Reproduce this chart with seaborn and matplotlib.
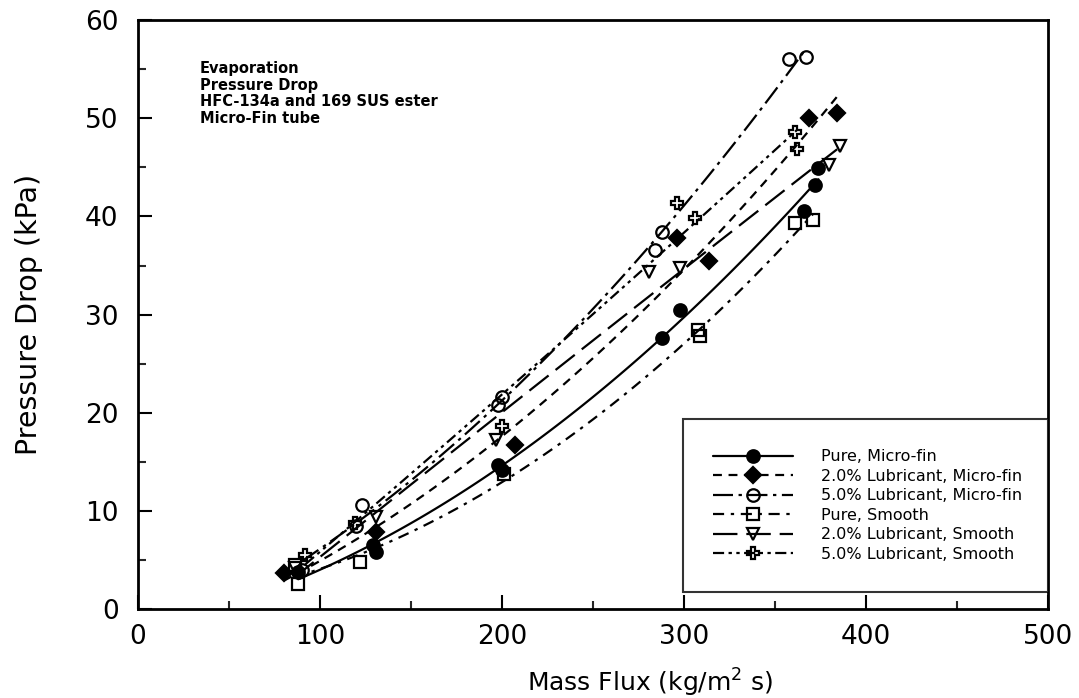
import numpy as np
import matplotlib
matplotlib.use("Agg")
import matplotlib.pyplot as plt
from matplotlib.lines import Line2D
from matplotlib.ticker import MultipleLocator
import seaborn as sns

# Data (mass flux kg/m2 s, pressure drop kPa)
pure_mf_x = [88, 129, 131, 198, 200, 288, 298, 366, 372, 374]
pure_mf_y = [3.8, 6.5, 5.8, 14.7, 14.2, 27.6, 30.5, 40.6, 43.2, 44.9]

lub2_mf_x = [80, 131, 207, 296, 314, 369, 384]
lub2_mf_y = [3.7, 7.8, 16.7, 37.8, 35.5, 50.0, 50.5]

lub5_mf_x = [90, 120, 123, 198, 200, 284, 288, 358, 367]
lub5_mf_y = [4.0, 8.5, 10.6, 20.8, 21.6, 36.6, 38.4, 56.1, 56.3]

pure_sm_x = [86, 88, 122, 201, 308, 309, 361, 371]
pure_sm_y = [4.5, 2.5, 4.8, 13.8, 28.4, 27.8, 39.3, 39.6]

lub2_sm_x = [86, 131, 197, 281, 298, 380, 386]
lub2_sm_y = [4.2, 9.4, 17.2, 34.3, 34.8, 45.2, 47.2]

lub5_sm_x = [92, 119, 200, 296, 306, 361, 362]
lub5_sm_y = [5.5, 8.8, 18.7, 41.4, 39.8, 48.6, 46.9]

labels = ["Pure, Micro-fin", "2.0% Lubricant, Micro-fin", "5.0% Lubricant, Micro-fin",
          "Pure, Smooth", "2.0% Lubricant, Smooth", "5.0% Lubricant, Smooth"]

series = [
    (pure_mf_x, pure_mf_y, "o", "black", "-"),
    (lub2_mf_x, lub2_mf_y, "D", "black", (0, (4, 3))),
    (lub5_mf_x, lub5_mf_y, "o", "none", (0, (9, 2.5, 1.5, 2.5))),
    (pure_sm_x, pure_sm_y, "s", "none", (0, (5, 3, 1.5, 3))),
    (lub2_sm_x, lub2_sm_y, "v", "none", (0, (11, 4))),
    (lub5_sm_x, lub5_sm_y, "P", "none", (0, (5, 2, 1.5, 2, 1.5, 2))),
]

sns.set_theme(style="ticks")
plt.rcParams["font.family"] = ["DejaVu Sans"]
plt.rcParams["text.color"] = "black"

fig, ax = plt.subplots(figsize=(10.79, 6.98), dpi=100)
fig.subplots_adjust(left=0.128, right=0.971, bottom=0.1275, top=0.971)

handles = []
for (xs, ys, mk, fc, ls), lab in zip(series, labels):
    ms = 9 if mk != "D" else 8
    sns.regplot(x=np.array(xs), y=np.array(ys), order=2, ci=None, ax=ax,
                scatter=False, color="black",
                line_kws=dict(linestyle=ls, linewidth=1.6))
    ax.plot(xs, ys, linestyle="none", marker=mk, markersize=ms,
            markerfacecolor=fc, markeredgecolor="black", markeredgewidth=1.6)
    handles.append(Line2D([], [], color="black", linestyle=ls, linewidth=1.6,
                          marker=mk, markersize=ms, markerfacecolor=fc,
                          markeredgecolor="black", markeredgewidth=1.6))

ax.set_xlim(0, 500)
ax.set_ylim(0, 60)
ax.xaxis.set_major_locator(MultipleLocator(100))
ax.xaxis.set_minor_locator(MultipleLocator(50))
ax.yaxis.set_major_locator(MultipleLocator(10))
ax.yaxis.set_minor_locator(MultipleLocator(5))
ax.tick_params(which="major", direction="in", length=10, width=1.5,
               labelsize=19, color="black", labelcolor="black")
ax.tick_params(axis="y", which="major", pad=14)
ax.tick_params(axis="x", which="major", pad=11)
ax.tick_params(which="minor", direction="in", length=6, width=1.5)
for sp in ax.spines.values():
    sp.set_linewidth(2)
    sp.set_color("black")

ax.set_xlabel("Mass Flux (kg/m$^2$ s)", fontsize=18, color="black")
ax.set_ylabel("Pressure Drop (kPa)", fontsize=20.5, color="black")
ax.xaxis.set_label_coords(0.563, -0.098)
ax.yaxis.set_label_coords(-0.105, 0.5)

ax.text(0.068, 0.93, "Evaporation\nPressure Drop\nHFC-134a and 169 SUS ester\nMicro-Fin tube",
        transform=ax.transAxes, fontsize=10.5, fontweight="bold", va="top",
        ha="left", linespacing=1.12, color="black")

leg = ax.legend(handles, labels, loc="lower left",
                bbox_to_anchor=(0.599, 0.029, 0.401, 0.295), mode="expand",
                fontsize=11.5, frameon=True, fancybox=False, borderpad=1.9,
                labelspacing=0.28, handlelength=5.0, handletextpad=1.75,
                borderaxespad=0)
leg.get_frame().set_edgecolor("black")
leg.get_frame().set_linewidth(1.5)
for t in leg.get_texts():
    t.set_color("black")

fig.savefig("out.png", dpi=100)
